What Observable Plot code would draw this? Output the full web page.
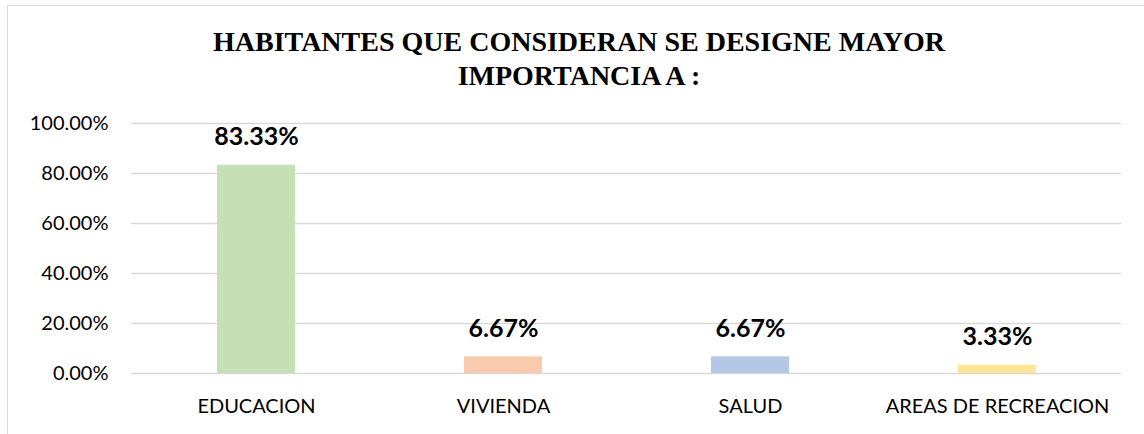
<!DOCTYPE html>
<html>
<head>
<meta charset="utf-8">
<script src="https://cdn.jsdelivr.net/npm/d3@7"></script>
<script src="https://cdn.jsdelivr.net/npm/@observablehq/plot@0.6"></script>
<style>
  html, body { margin: 0; padding: 0; background: #fff; }
  #wrap { position: relative; width: 1144px; height: 434px; overflow: hidden; }
  #frame { position: absolute; left: 7px; top: 5px; width: 1160px; height: 460px; border: 1px solid #d9d9d9; box-sizing: border-box; }
  #title { position: absolute; left: 0; width: 1158px; top: 25px; text-align: center;
           font-family: "Liberation Serif", "Times New Roman", serif; font-weight: bold; font-size: 28px; line-height: 34px; color: #000; }
  #chart { position: absolute; left: 0; top: 0; }
</style>
</head>
<body>
<div id="wrap">
  <div id="frame"></div>
  <div id="chart"></div>
  <div id="title">HABITANTES QUE CONSIDERAN SE DESIGNE MAYOR<br>IMPORTANCIA A :</div>
</div>
<script>
const categories = ["EDUCACION", "VIVIENDA", "SALUD", "AREAS DE RECREACION"];
const values = [0.8333, 0.0667, 0.0667, 0.0333];
const colors = ["#c5e0b4", "#f8cbad", "#b4c7e7", "#ffe699"];
const yTicks = [0, 0.2, 0.4, 0.6, 0.8, 1.0];

const data = categories.map((c, i) => ({category: c, value: values[i], color: colors[i]}));
const pct = d3.format(".2%");

const chart = Plot.plot({
  width: 1144,
  height: 434,
  marginTop: 123,
  marginBottom: 61,
  marginLeft: 131,
  marginRight: 23,
  style: {fontFamily: "Lato, 'Liberation Sans', sans-serif", fontSize: "20px", color: "#000", background: "transparent"},
  x: {domain: categories, paddingInner: 0.685, paddingOuter: 0.3425, label: null, tickSize: 0, tickPadding: 25},
  y: {domain: [0, 1], ticks: yTicks, tickFormat: pct, label: null, tickSize: 0, tickPadding: 23},
  marks: [
    Plot.gridY(yTicks, {stroke: "#d9d9d9", strokeOpacity: 1, strokeWidth: 1.5}),
    Plot.barY(data, {x: "category", y: "value", fill: "color"}),
    Plot.text(data, {x: "category", y: "value", text: d => pct(d.value), dy: -28,
      fontWeight: "bold", fontSize: 25, fill: "#000"})
  ]
});
document.getElementById("chart").appendChild(chart);
</script>
</body>
</html>
